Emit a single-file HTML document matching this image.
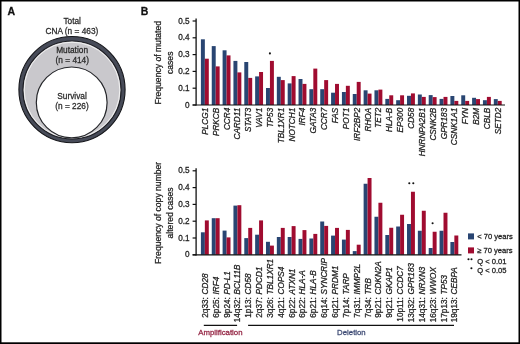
<!DOCTYPE html>
<html><head><meta charset="utf-8"><title>Figure</title>
<style>
html,body{margin:0;padding:0;background:#fff;}
body{width:520px;height:344px;overflow:hidden;}
svg{display:block;will-change:transform;font-family:"Liberation Sans",sans-serif;}
text{stroke-width:0.26px;}
</style></head><body>
<svg width="520" height="344" viewBox="0 0 520 344">
<rect width="520" height="344" fill="#fff"/>
<g id="venn">
<circle cx="72" cy="89.6" r="53.1" fill="#474b58" stroke="#15161a" stroke-width="1.1"/>
<circle cx="72" cy="90.0" r="49.0" fill="#c9c8cc" stroke="#1c1d22" stroke-width="1.2"/>
<circle cx="72" cy="90.0" r="47.8" fill="none" stroke="#f2f2f2" stroke-width="1"/>
<circle cx="71.7" cy="102.4" r="35.4" fill="#fff" stroke="#26272b" stroke-width="1.2"/>
</g>
<text x="72.2" y="24.3" font-size="8.3" fill="#2a2a2a" stroke="#2a2a2a" text-anchor="middle">Total</text>
<text x="71.9" y="34.0" font-size="8.3" fill="#2a2a2a" stroke="#2a2a2a" text-anchor="middle">CNA (n = 463)</text>
<text x="72.1" y="53.1" font-size="8.3" fill="#2a2a2a" stroke="#2a2a2a" text-anchor="middle">Mutation</text>
<text x="72.3" y="63.0" font-size="8.3" fill="#2a2a2a" stroke="#2a2a2a" text-anchor="middle">(n = 414)</text>
<text x="72.0" y="99.1" font-size="8.3" fill="#2a2a2a" stroke="#2a2a2a" text-anchor="middle">Survival</text>
<text x="72.0" y="109.2" font-size="8.3" fill="#2a2a2a" stroke="#2a2a2a" text-anchor="middle">(n = 226)</text>
<text x="7.5" y="15" font-size="10.5" font-weight="bold" fill="#111" stroke="#111">A</text>
<text x="140.8" y="14.9" font-size="10.5" font-weight="bold" fill="#111" stroke="#111">B</text>
<rect x="200.9" y="39.3" width="3.95" height="65.7" fill="#294572"/>
<rect x="204.85" y="58.7" width="3.95" height="46.3" fill="#a00c30"/>
<rect x="211.75" y="46.1" width="3.95" height="58.9" fill="#294572"/>
<rect x="215.7" y="66.4" width="3.95" height="38.6" fill="#a00c30"/>
<rect x="222.6" y="50.3" width="3.95" height="54.7" fill="#294572"/>
<rect x="226.55" y="55.4" width="3.95" height="49.6" fill="#a00c30"/>
<rect x="233.44" y="60.9" width="3.95" height="44.1" fill="#294572"/>
<rect x="237.39" y="72.4" width="3.95" height="32.6" fill="#a00c30"/>
<rect x="244.29" y="62" width="3.95" height="43" fill="#294572"/>
<rect x="248.24" y="77.9" width="3.95" height="27.1" fill="#a00c30"/>
<rect x="255.14" y="76.4" width="3.95" height="28.6" fill="#294572"/>
<rect x="259.09" y="72" width="3.95" height="33" fill="#a00c30"/>
<rect x="265.99" y="88" width="3.95" height="17" fill="#294572"/>
<rect x="269.94" y="60.9" width="3.95" height="44.1" fill="#a00c30"/>
<rect x="276.84" y="76.8" width="3.95" height="28.2" fill="#294572"/>
<rect x="280.79" y="80.1" width="3.95" height="24.9" fill="#a00c30"/>
<rect x="287.68" y="83.4" width="3.95" height="21.6" fill="#294572"/>
<rect x="291.63" y="76.1" width="3.95" height="28.9" fill="#a00c30"/>
<rect x="298.53" y="79" width="3.95" height="26" fill="#294572"/>
<rect x="302.48" y="83.9" width="3.95" height="21.1" fill="#a00c30"/>
<rect x="309.38" y="89.2" width="3.95" height="15.8" fill="#294572"/>
<rect x="313.33" y="68.6" width="3.95" height="36.4" fill="#a00c30"/>
<rect x="320.23" y="89.2" width="3.95" height="15.8" fill="#294572"/>
<rect x="324.18" y="80.1" width="3.95" height="24.9" fill="#a00c30"/>
<rect x="331.08" y="92.7" width="3.95" height="12.3" fill="#294572"/>
<rect x="335.03" y="83.9" width="3.95" height="21.1" fill="#a00c30"/>
<rect x="341.92" y="92" width="3.95" height="13" fill="#294572"/>
<rect x="345.87" y="85.8" width="3.95" height="19.2" fill="#a00c30"/>
<rect x="352.77" y="94" width="3.95" height="11" fill="#294572"/>
<rect x="356.72" y="81.9" width="3.95" height="23.1" fill="#a00c30"/>
<rect x="363.62" y="90.3" width="3.95" height="14.7" fill="#294572"/>
<rect x="367.57" y="93.6" width="3.95" height="11.4" fill="#a00c30"/>
<rect x="374.47" y="90.3" width="3.95" height="14.7" fill="#294572"/>
<rect x="378.42" y="89.6" width="3.95" height="15.4" fill="#a00c30"/>
<rect x="385.32" y="98.9" width="3.95" height="6.1" fill="#294572"/>
<rect x="389.27" y="95.3" width="3.95" height="9.7" fill="#a00c30"/>
<rect x="396.16" y="100.2" width="3.95" height="4.8" fill="#294572"/>
<rect x="400.11" y="95.3" width="3.95" height="9.7" fill="#a00c30"/>
<rect x="407.01" y="95.8" width="3.95" height="9.2" fill="#294572"/>
<rect x="410.96" y="93.4" width="3.95" height="11.6" fill="#a00c30"/>
<rect x="417.86" y="94.5" width="3.95" height="10.5" fill="#294572"/>
<rect x="421.81" y="96.9" width="3.95" height="8.1" fill="#a00c30"/>
<rect x="428.71" y="95.1" width="3.95" height="9.9" fill="#294572"/>
<rect x="432.66" y="97.1" width="3.95" height="7.9" fill="#a00c30"/>
<rect x="439.56" y="98.9" width="3.95" height="6.1" fill="#294572"/>
<rect x="443.51" y="96.9" width="3.95" height="8.1" fill="#a00c30"/>
<rect x="450.4" y="96" width="3.95" height="9" fill="#294572"/>
<rect x="454.35" y="100.9" width="3.95" height="4.1" fill="#a00c30"/>
<rect x="461.25" y="95.3" width="3.95" height="9.7" fill="#294572"/>
<rect x="465.2" y="100.9" width="3.95" height="4.1" fill="#a00c30"/>
<rect x="472.1" y="97.8" width="3.95" height="7.2" fill="#294572"/>
<rect x="476.05" y="99.1" width="3.95" height="5.9" fill="#a00c30"/>
<rect x="482.95" y="100.2" width="3.95" height="4.8" fill="#294572"/>
<rect x="486.9" y="96.9" width="3.95" height="8.1" fill="#a00c30"/>
<rect x="493.8" y="99.1" width="3.95" height="5.9" fill="#294572"/>
<rect x="497.75" y="100.9" width="3.95" height="4.1" fill="#a00c30"/>
<line x1="192.6" y1="105" x2="505" y2="105" stroke="#111" stroke-width="1.15"/>
<line x1="196.1" y1="18.4" x2="196.1" y2="105.6" stroke="#111" stroke-width="1.3"/>
<line x1="192.6" y1="105" x2="196.1" y2="105" stroke="#111" stroke-width="1.2"/>
<text x="189.6" y="107.6" font-size="8.2" fill="#222" stroke="#222" text-anchor="end">0</text>
<line x1="192.6" y1="88.2" x2="196.1" y2="88.2" stroke="#111" stroke-width="1.2"/>
<text x="189.6" y="90.8" font-size="8.2" fill="#222" stroke="#222" text-anchor="end">0.1</text>
<line x1="192.6" y1="71.4" x2="196.1" y2="71.4" stroke="#111" stroke-width="1.2"/>
<text x="189.6" y="74" font-size="8.2" fill="#222" stroke="#222" text-anchor="end">0.2</text>
<line x1="192.6" y1="54.6" x2="196.1" y2="54.6" stroke="#111" stroke-width="1.2"/>
<text x="189.6" y="57.2" font-size="8.2" fill="#222" stroke="#222" text-anchor="end">0.3</text>
<line x1="192.6" y1="37.8" x2="196.1" y2="37.8" stroke="#111" stroke-width="1.2"/>
<text x="189.6" y="40.4" font-size="8.2" fill="#222" stroke="#222" text-anchor="end">0.4</text>
<line x1="192.6" y1="21" x2="196.1" y2="21" stroke="#111" stroke-width="1.2"/>
<text x="189.6" y="23.6" font-size="8.2" fill="#222" stroke="#222" text-anchor="end">0.5</text>
<text transform="translate(160.8,62.8) rotate(-90)" font-size="8.6" fill="#222" stroke="#222" text-anchor="middle">Frequency of mutated</text>
<text transform="translate(173.0,62.8) rotate(-90)" font-size="8.6" fill="#222" stroke="#222" text-anchor="middle">cases</text>
<text transform="translate(207.85,107.8) rotate(-90)" font-size="8.2" font-style="italic" fill="#222" stroke="#222" text-anchor="end">PLCG1</text>
<text transform="translate(218.7,107.8) rotate(-90)" font-size="8.2" font-style="italic" fill="#222" stroke="#222" text-anchor="end">PRKCB</text>
<text transform="translate(229.55,107.8) rotate(-90)" font-size="8.2" font-style="italic" fill="#222" stroke="#222" text-anchor="end">CCR4</text>
<text transform="translate(240.39,107.8) rotate(-90)" font-size="8.2" font-style="italic" fill="#222" stroke="#222" text-anchor="end">CARD11</text>
<text transform="translate(251.24,107.8) rotate(-90)" font-size="8.2" font-style="italic" fill="#222" stroke="#222" text-anchor="end">STAT3</text>
<text transform="translate(262.09,107.8) rotate(-90)" font-size="8.2" font-style="italic" fill="#222" stroke="#222" text-anchor="end">VAV1</text>
<text transform="translate(272.94,107.8) rotate(-90)" font-size="8.2" font-style="italic" fill="#222" stroke="#222" text-anchor="end">TP53</text>
<text transform="translate(283.79,107.8) rotate(-90)" font-size="8.2" font-style="italic" fill="#222" stroke="#222" text-anchor="end">TBL1XR1</text>
<text transform="translate(294.63,107.8) rotate(-90)" font-size="8.2" font-style="italic" fill="#222" stroke="#222" text-anchor="end">NOTCH1</text>
<text transform="translate(305.48,107.8) rotate(-90)" font-size="8.2" font-style="italic" fill="#222" stroke="#222" text-anchor="end">IRF4</text>
<text transform="translate(316.33,107.8) rotate(-90)" font-size="8.2" font-style="italic" fill="#222" stroke="#222" text-anchor="end">GATA3</text>
<text transform="translate(327.18,107.8) rotate(-90)" font-size="8.2" font-style="italic" fill="#222" stroke="#222" text-anchor="end">CCR7</text>
<text transform="translate(338.03,107.8) rotate(-90)" font-size="8.2" font-style="italic" fill="#222" stroke="#222" text-anchor="end">FAS</text>
<text transform="translate(348.87,107.8) rotate(-90)" font-size="8.2" font-style="italic" fill="#222" stroke="#222" text-anchor="end">POT1</text>
<text transform="translate(359.72,107.8) rotate(-90)" font-size="8.2" font-style="italic" fill="#222" stroke="#222" text-anchor="end">IRF2BP2</text>
<text transform="translate(370.57,107.8) rotate(-90)" font-size="8.2" font-style="italic" fill="#222" stroke="#222" text-anchor="end">RHOA</text>
<text transform="translate(381.42,107.8) rotate(-90)" font-size="8.2" font-style="italic" fill="#222" stroke="#222" text-anchor="end">TET2</text>
<text transform="translate(392.27,107.8) rotate(-90)" font-size="8.2" font-style="italic" fill="#222" stroke="#222" text-anchor="end">HLA-B</text>
<text transform="translate(403.11,107.8) rotate(-90)" font-size="8.2" font-style="italic" fill="#222" stroke="#222" text-anchor="end">EP300</text>
<text transform="translate(413.96,107.8) rotate(-90)" font-size="8.2" font-style="italic" fill="#222" stroke="#222" text-anchor="end">CD58</text>
<text transform="translate(424.81,107.8) rotate(-90)" font-size="8.2" font-style="italic" fill="#222" stroke="#222" text-anchor="end">HNRNPA2B1</text>
<text transform="translate(435.66,107.8) rotate(-90)" font-size="8.2" font-style="italic" fill="#222" stroke="#222" text-anchor="end">CSNK2B</text>
<text transform="translate(446.51,107.8) rotate(-90)" font-size="8.2" font-style="italic" fill="#222" stroke="#222" text-anchor="end">GPR183</text>
<text transform="translate(457.35,107.8) rotate(-90)" font-size="8.2" font-style="italic" fill="#222" stroke="#222" text-anchor="end">CSNK1A1</text>
<text transform="translate(468.2,107.8) rotate(-90)" font-size="8.2" font-style="italic" fill="#222" stroke="#222" text-anchor="end">FYN</text>
<text transform="translate(479.05,107.8) rotate(-90)" font-size="8.2" font-style="italic" fill="#222" stroke="#222" text-anchor="end">B2M</text>
<text transform="translate(489.9,107.8) rotate(-90)" font-size="8.2" font-style="italic" fill="#222" stroke="#222" text-anchor="end">CBLB</text>
<text transform="translate(500.75,107.8) rotate(-90)" font-size="8.2" font-style="italic" fill="#222" stroke="#222" text-anchor="end">SETD2</text>
<circle cx="269.9" cy="53.4" r="1.05" fill="#111"/>
<rect x="200.9" y="232.3" width="3.95" height="22.5" fill="#294572"/>
<rect x="204.85" y="220.4" width="3.95" height="34.4" fill="#a00c30"/>
<rect x="211.75" y="218.2" width="3.95" height="36.6" fill="#294572"/>
<rect x="215.7" y="218.2" width="3.95" height="36.6" fill="#a00c30"/>
<rect x="222.6" y="230.6" width="3.95" height="24.2" fill="#294572"/>
<rect x="226.55" y="237.4" width="3.95" height="17.4" fill="#a00c30"/>
<rect x="233.44" y="205.6" width="3.95" height="49.2" fill="#294572"/>
<rect x="237.39" y="205.2" width="3.95" height="49.6" fill="#a00c30"/>
<rect x="244.29" y="238.1" width="3.95" height="16.7" fill="#294572"/>
<rect x="248.24" y="227.9" width="3.95" height="26.9" fill="#a00c30"/>
<rect x="255.14" y="234.7" width="3.95" height="20.1" fill="#294572"/>
<rect x="259.09" y="220.4" width="3.95" height="34.4" fill="#a00c30"/>
<rect x="265.99" y="241.8" width="3.95" height="13" fill="#294572"/>
<rect x="269.94" y="245.6" width="3.95" height="9.2" fill="#a00c30"/>
<rect x="276.84" y="237" width="3.95" height="17.8" fill="#294572"/>
<rect x="280.79" y="227.9" width="3.95" height="26.9" fill="#a00c30"/>
<rect x="287.68" y="237" width="3.95" height="17.8" fill="#294572"/>
<rect x="291.63" y="226.1" width="3.95" height="28.7" fill="#a00c30"/>
<rect x="298.53" y="238.9" width="3.95" height="15.9" fill="#294572"/>
<rect x="302.48" y="230.1" width="3.95" height="24.7" fill="#a00c30"/>
<rect x="309.38" y="238.5" width="3.95" height="16.3" fill="#294572"/>
<rect x="313.33" y="233.9" width="3.95" height="20.9" fill="#a00c30"/>
<rect x="320.23" y="221.5" width="3.95" height="33.3" fill="#294572"/>
<rect x="324.18" y="225.9" width="3.95" height="28.9" fill="#a00c30"/>
<rect x="331.08" y="235.6" width="3.95" height="19.2" fill="#294572"/>
<rect x="335.03" y="227.9" width="3.95" height="26.9" fill="#a00c30"/>
<rect x="341.92" y="239.6" width="3.95" height="15.2" fill="#294572"/>
<rect x="345.87" y="229.9" width="3.95" height="24.9" fill="#a00c30"/>
<rect x="352.77" y="251.1" width="3.95" height="3.7" fill="#294572"/>
<rect x="356.72" y="244.7" width="3.95" height="10.1" fill="#a00c30"/>
<rect x="363.62" y="183.75" width="3.95" height="71.05" fill="#294572"/>
<rect x="367.57" y="178" width="3.95" height="76.8" fill="#a00c30"/>
<rect x="374.47" y="216.75" width="3.95" height="38.05" fill="#294572"/>
<rect x="378.42" y="202.75" width="3.95" height="52.05" fill="#a00c30"/>
<rect x="385.32" y="235" width="3.95" height="19.8" fill="#294572"/>
<rect x="389.27" y="227.75" width="3.95" height="27.05" fill="#a00c30"/>
<rect x="396.16" y="226.5" width="3.95" height="28.3" fill="#294572"/>
<rect x="400.11" y="214.75" width="3.95" height="40.05" fill="#a00c30"/>
<rect x="407.01" y="224" width="3.95" height="30.8" fill="#294572"/>
<rect x="410.96" y="191.75" width="3.95" height="63.05" fill="#a00c30"/>
<rect x="417.86" y="230.75" width="3.95" height="24.05" fill="#294572"/>
<rect x="421.81" y="210.75" width="3.95" height="44.05" fill="#a00c30"/>
<rect x="428.71" y="248" width="3.95" height="6.8" fill="#294572"/>
<rect x="432.66" y="231.75" width="3.95" height="23.05" fill="#a00c30"/>
<rect x="439.56" y="230.75" width="3.95" height="24.05" fill="#294572"/>
<rect x="443.51" y="212.75" width="3.95" height="42.05" fill="#a00c30"/>
<rect x="450.4" y="242" width="3.95" height="12.8" fill="#294572"/>
<rect x="454.35" y="235.5" width="3.95" height="19.3" fill="#a00c30"/>
<line x1="192.6" y1="254.8" x2="461.5" y2="254.8" stroke="#111" stroke-width="1.15"/>
<line x1="196.1" y1="168.2" x2="196.1" y2="255.4" stroke="#111" stroke-width="1.3"/>
<line x1="192.6" y1="254.8" x2="196.1" y2="254.8" stroke="#111" stroke-width="1.2"/>
<text x="189.6" y="257.4" font-size="8.2" fill="#222" stroke="#222" text-anchor="end">0</text>
<line x1="192.6" y1="238" x2="196.1" y2="238" stroke="#111" stroke-width="1.2"/>
<text x="189.6" y="240.6" font-size="8.2" fill="#222" stroke="#222" text-anchor="end">0.1</text>
<line x1="192.6" y1="221.2" x2="196.1" y2="221.2" stroke="#111" stroke-width="1.2"/>
<text x="189.6" y="223.8" font-size="8.2" fill="#222" stroke="#222" text-anchor="end">0.2</text>
<line x1="192.6" y1="204.4" x2="196.1" y2="204.4" stroke="#111" stroke-width="1.2"/>
<text x="189.6" y="207" font-size="8.2" fill="#222" stroke="#222" text-anchor="end">0.3</text>
<line x1="192.6" y1="187.6" x2="196.1" y2="187.6" stroke="#111" stroke-width="1.2"/>
<text x="189.6" y="190.2" font-size="8.2" fill="#222" stroke="#222" text-anchor="end">0.4</text>
<line x1="192.6" y1="170.8" x2="196.1" y2="170.8" stroke="#111" stroke-width="1.2"/>
<text x="189.6" y="173.4" font-size="8.2" fill="#222" stroke="#222" text-anchor="end">0.5</text>
<text transform="translate(160.8,212.9) rotate(-90)" font-size="8.6" fill="#222" stroke="#222" text-anchor="middle">Frequency of copy number</text>
<text transform="translate(173.0,212.9) rotate(-90)" font-size="8.6" fill="#222" stroke="#222" text-anchor="middle">altered cases</text>
<text transform="translate(207.85,297.2) rotate(-90)" font-size="8.2" fill="#222" stroke="#222" text-anchor="end">2q33:</text>
<text transform="translate(207.85,294.4) rotate(-90)" font-size="8.2" font-style="italic" fill="#222" stroke="#222">CD28</text>
<text transform="translate(218.7,297.2) rotate(-90)" font-size="8.2" fill="#222" stroke="#222" text-anchor="end">6p25:</text>
<text transform="translate(218.7,294.4) rotate(-90)" font-size="8.2" font-style="italic" fill="#222" stroke="#222">IRF4</text>
<text transform="translate(229.55,297.2) rotate(-90)" font-size="8.2" fill="#222" stroke="#222" text-anchor="end">9p24:</text>
<text transform="translate(229.55,294.4) rotate(-90)" font-size="8.2" font-style="italic" fill="#222" stroke="#222">PD-L1</text>
<text transform="translate(240.39,297.2) rotate(-90)" font-size="8.2" fill="#222" stroke="#222" text-anchor="end">14q32:</text>
<text transform="translate(240.39,294.4) rotate(-90)" font-size="8.2" font-style="italic" fill="#222" stroke="#222">BCL11B</text>
<text transform="translate(251.24,297.2) rotate(-90)" font-size="8.2" fill="#222" stroke="#222" text-anchor="end">1p13:</text>
<text transform="translate(251.24,294.4) rotate(-90)" font-size="8.2" font-style="italic" fill="#222" stroke="#222">CD58</text>
<text transform="translate(262.09,297.2) rotate(-90)" font-size="8.2" fill="#222" stroke="#222" text-anchor="end">2q37:</text>
<text transform="translate(262.09,294.4) rotate(-90)" font-size="8.2" font-style="italic" fill="#222" stroke="#222">PDCD1</text>
<text transform="translate(272.94,297.2) rotate(-90)" font-size="8.2" fill="#222" stroke="#222" text-anchor="end">3q26:</text>
<text transform="translate(272.94,294.4) rotate(-90)" font-size="8.2" font-style="italic" fill="#222" stroke="#222">TBL1XR1</text>
<text transform="translate(283.79,297.2) rotate(-90)" font-size="8.2" fill="#222" stroke="#222" text-anchor="end">4q21:</text>
<text transform="translate(283.79,294.4) rotate(-90)" font-size="8.2" font-style="italic" fill="#222" stroke="#222">COPS4</text>
<text transform="translate(294.63,297.2) rotate(-90)" font-size="8.2" fill="#222" stroke="#222" text-anchor="end">6p22:</text>
<text transform="translate(294.63,294.4) rotate(-90)" font-size="8.2" font-style="italic" fill="#222" stroke="#222">ATXN1</text>
<text transform="translate(305.48,297.2) rotate(-90)" font-size="8.2" fill="#222" stroke="#222" text-anchor="end">6p22:</text>
<text transform="translate(305.48,294.4) rotate(-90)" font-size="8.2" font-style="italic" fill="#222" stroke="#222">HLA-A</text>
<text transform="translate(316.33,297.2) rotate(-90)" font-size="8.2" fill="#222" stroke="#222" text-anchor="end">6p21:</text>
<text transform="translate(316.33,294.4) rotate(-90)" font-size="8.2" font-style="italic" fill="#222" stroke="#222">HLA-B</text>
<text transform="translate(327.18,297.2) rotate(-90)" font-size="8.2" fill="#222" stroke="#222" text-anchor="end">6q14:</text>
<text transform="translate(327.18,294.4) rotate(-90)" font-size="8.2" font-style="italic" fill="#222" stroke="#222">SYNCRIP</text>
<text transform="translate(338.03,297.2) rotate(-90)" font-size="8.2" fill="#222" stroke="#222" text-anchor="end">6q21:</text>
<text transform="translate(338.03,294.4) rotate(-90)" font-size="8.2" font-style="italic" fill="#222" stroke="#222">PRDM1</text>
<text transform="translate(348.87,297.2) rotate(-90)" font-size="8.2" fill="#222" stroke="#222" text-anchor="end">7p14:</text>
<text transform="translate(348.87,294.4) rotate(-90)" font-size="8.2" font-style="italic" fill="#222" stroke="#222">TARP</text>
<text transform="translate(359.72,297.2) rotate(-90)" font-size="8.2" fill="#222" stroke="#222" text-anchor="end">7q31:</text>
<text transform="translate(359.72,294.4) rotate(-90)" font-size="8.2" font-style="italic" fill="#222" stroke="#222">IMMP2L</text>
<text transform="translate(370.57,297.2) rotate(-90)" font-size="8.2" fill="#222" stroke="#222" text-anchor="end">7q34:</text>
<text transform="translate(370.57,294.4) rotate(-90)" font-size="8.2" font-style="italic" fill="#222" stroke="#222">TRB</text>
<text transform="translate(381.42,297.2) rotate(-90)" font-size="8.2" fill="#222" stroke="#222" text-anchor="end">9p21:</text>
<text transform="translate(381.42,294.4) rotate(-90)" font-size="8.2" font-style="italic" fill="#222" stroke="#222">CDKN2A</text>
<text transform="translate(392.27,297.2) rotate(-90)" font-size="8.2" fill="#222" stroke="#222" text-anchor="end">9q21:</text>
<text transform="translate(392.27,294.4) rotate(-90)" font-size="8.2" font-style="italic" fill="#222" stroke="#222">GKAP1</text>
<text transform="translate(403.11,297.2) rotate(-90)" font-size="8.2" fill="#222" stroke="#222" text-anchor="end">10p11:</text>
<text transform="translate(403.11,294.4) rotate(-90)" font-size="8.2" font-style="italic" fill="#222" stroke="#222">CCDC7</text>
<text transform="translate(413.96,297.2) rotate(-90)" font-size="8.2" fill="#222" stroke="#222" text-anchor="end">13q32:</text>
<text transform="translate(413.96,294.4) rotate(-90)" font-size="8.2" font-style="italic" fill="#222" stroke="#222">GPR183</text>
<text transform="translate(424.81,297.2) rotate(-90)" font-size="8.2" fill="#222" stroke="#222" text-anchor="end">14q31:</text>
<text transform="translate(424.81,294.4) rotate(-90)" font-size="8.2" font-style="italic" fill="#222" stroke="#222">NRXN3</text>
<text transform="translate(435.66,297.2) rotate(-90)" font-size="8.2" fill="#222" stroke="#222" text-anchor="end">16q23:</text>
<text transform="translate(435.66,294.4) rotate(-90)" font-size="8.2" font-style="italic" fill="#222" stroke="#222">WWOX</text>
<text transform="translate(446.51,297.2) rotate(-90)" font-size="8.2" fill="#222" stroke="#222" text-anchor="end">17p13:</text>
<text transform="translate(446.51,294.4) rotate(-90)" font-size="8.2" font-style="italic" fill="#222" stroke="#222">TP53</text>
<text transform="translate(457.35,297.2) rotate(-90)" font-size="8.2" fill="#222" stroke="#222" text-anchor="end">19q13:</text>
<text transform="translate(457.35,294.4) rotate(-90)" font-size="8.2" font-style="italic" fill="#222" stroke="#222">CEBPA</text>
<circle cx="409.3" cy="183.3" r="1.05" fill="#111"/><circle cx="413.3" cy="183.3" r="1.05" fill="#111"/>
<circle cx="432.6" cy="223.3" r="1.05" fill="#111"/>
<line x1="203.8" y1="325.3" x2="237.1" y2="325.3" stroke="#111" stroke-width="1.3"/>
<line x1="248.1" y1="325.3" x2="454" y2="325.3" stroke="#111" stroke-width="1.3"/>
<text x="220.4" y="335.1" font-size="7.8" fill="#932342" stroke="#932342" text-anchor="middle">Amplification</text>
<text x="351.4" y="335.2" font-size="7.8" fill="#3d4a74" stroke="#3d4a74" text-anchor="middle">Deletion</text>
<rect x="468" y="233.4" width="6" height="6" fill="#294572"/>
<rect x="468" y="247.4" width="6" height="6" fill="#a00c30"/>
<text x="477.2" y="238.9" font-size="7.6" fill="#222" stroke="#222">&lt; 70 years</text>
<text x="477.2" y="252.9" font-size="7.6" fill="#222" stroke="#222">≥ 70 years</text>
<circle cx="468.5" cy="259.2" r="1.05" fill="#111"/><circle cx="471.5" cy="259.2" r="1.05" fill="#111"/>
<circle cx="471.4" cy="268.2" r="1.05" fill="#111"/>
<text x="477.2" y="263.5" font-size="7.6" fill="#222" stroke="#222">Q &lt; 0.01</text>
<text x="477.2" y="272.7" font-size="7.6" fill="#222" stroke="#222">Q &lt; 0.05</text>
<rect x="0" y="0" width="520" height="1.5" fill="#000"/>
<rect x="0" y="0" width="1.5" height="344" fill="#000"/>
<rect x="518.5" y="0" width="1.5" height="344" fill="#000"/>
<rect x="0" y="342.3" width="520" height="1.7" fill="#000"/>
</svg>
</body></html>
